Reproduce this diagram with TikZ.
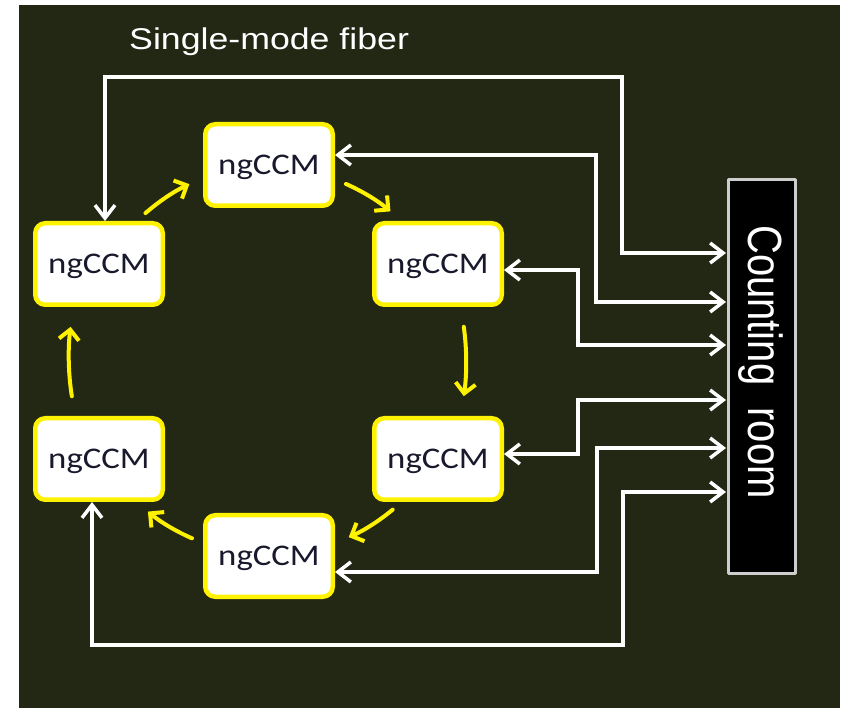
\documentclass[tikz,border=0pt]{standalone}
\usepackage{fontspec}
\usepackage{tikz}
\usetikzlibrary{arrows.meta}

\newfontfamily\arialfont{Liberation Sans}
\newfontfamily\calibrifont{Carlito}

\definecolor{olivebg}{RGB}{34,40,20}
\definecolor{ccmink}{RGB}{25,25,45}
\definecolor{roomedge}{RGB}{205,205,205}

\newcommand{\widetext}[1]{\scalebox{1.16}[1]{#1}}

\begin{document}
\begin{tikzpicture}[
    x=1pt, y=-1pt,
    line cap=round,
    line join=round,
    ccm/.style={draw=yellow, fill=white, line width=4.5pt, rounded corners=10pt,
        minimum width=127.5pt, minimum height=81.5pt, inner sep=0pt,
        text depth=0pt, text=ccmink,
        font=\calibrifont\fontsize{30}{30}\selectfont},
    fiber/.style={draw=white, line width=3.5pt, line join=miter,
        arrows={Straight Barb[length=13pt,width=20pt,line width=3.5pt]-Straight Barb[length=13pt,width=20pt,line width=3.5pt]}},
    ring/.style={draw=yellow, line width=4pt,
        arrows={-Straight Barb[length=10pt,width=20pt,line width=4pt]},
        shorten <=12pt, shorten >=15pt},
    room/.style={draw=roomedge, fill=black, line width=3pt,
        minimum width=67pt, minimum height=394pt, inner sep=0pt}
]

\useasboundingbox (0,0) rectangle (844,708);

%------------------------------------------------
% Background
%------------------------------------------------
\fill[white] (0,0) rectangle (844,708);
\fill[olivebg] (19,5) rectangle (840,708);

%------------------------------------------------
% Title
%------------------------------------------------
\node[text=white, font=\arialfont\fontsize{30}{30}\selectfont,
    xscale=1.19, anchor=base west] (fibertitle) at (125,49.5) {Single-mode fiber};

%------------------------------------------------
% ngCCM ring
%------------------------------------------------
\node[ccm] (top) at (269,165) {\widetext{ngCCM}};
\node[ccm] (ul)  at (99,264)  {\widetext{ngCCM}};
\node[ccm] (ur)  at (438,264) {\widetext{ngCCM}};
\node[ccm] (ll)  at (99,459)  {\widetext{ngCCM}};
\node[ccm] (lr)  at (438,459) {\widetext{ngCCM}};
\node[ccm] (bot) at (269,556) {\widetext{ngCCM}};

%------------------------------------------------
% Counting room
%------------------------------------------------
\node[room] (room) at (762,376.5) {};
\node[text=white, font=\arialfont\fontsize{40}{40}\selectfont,
    xscale=1.2, rotate=-90, anchor=base] (roomlabel) at (748,362) {Counting~~room};

% inputs on the west side
\foreach \k/\y in {1/253, 2/302, 3/345, 4/400, 5/448, 6/492}
    \path (room.west) ++(-1,\y-376.5) coordinate (in\k);

%------------------------------------------------
% Fibers to the counting room
%------------------------------------------------
\draw[fiber] (in1) -| (622,77) -| ([xshift=6pt]ul.north);
\draw[fiber] (in2) -| (596,155) -- ([yshift=10pt]top.east);
\draw[fiber] (in3) -| (578,270) -- ([yshift=-6pt]ur.east);
\draw[fiber] (in4) -| (578,454) -- ([yshift=5pt]lr.east);
\draw[fiber] (in5) -| (597,572) -- ([yshift=-16pt]bot.east);
\draw[fiber] (in6) -| (623,645) -| ([xshift=-7pt]ll.south);

%------------------------------------------------
% Ring direction
%------------------------------------------------
\draw[ring] (ul.49) to[bend left=8] (top.191);
\draw[ring] (top.-12) to[bend left=8] (ur.130);
\draw[ring, shorten <=20pt, shorten >=20pt]
    ([xshift=23pt]ur.south) to[bend left=8] ([xshift=23pt]lr.north);
\draw[ring] (lr.230) to[bend left=8] (bot.11);
\draw[ring] (bot.169) to[bend left=8] (ll.-49);
\draw[ring, shorten <=20pt, shorten >=20pt]
    ([xshift=-24pt]ll.north) to[bend left=8] ([xshift=-26pt]ul.south);

\end{tikzpicture}
\end{document}
